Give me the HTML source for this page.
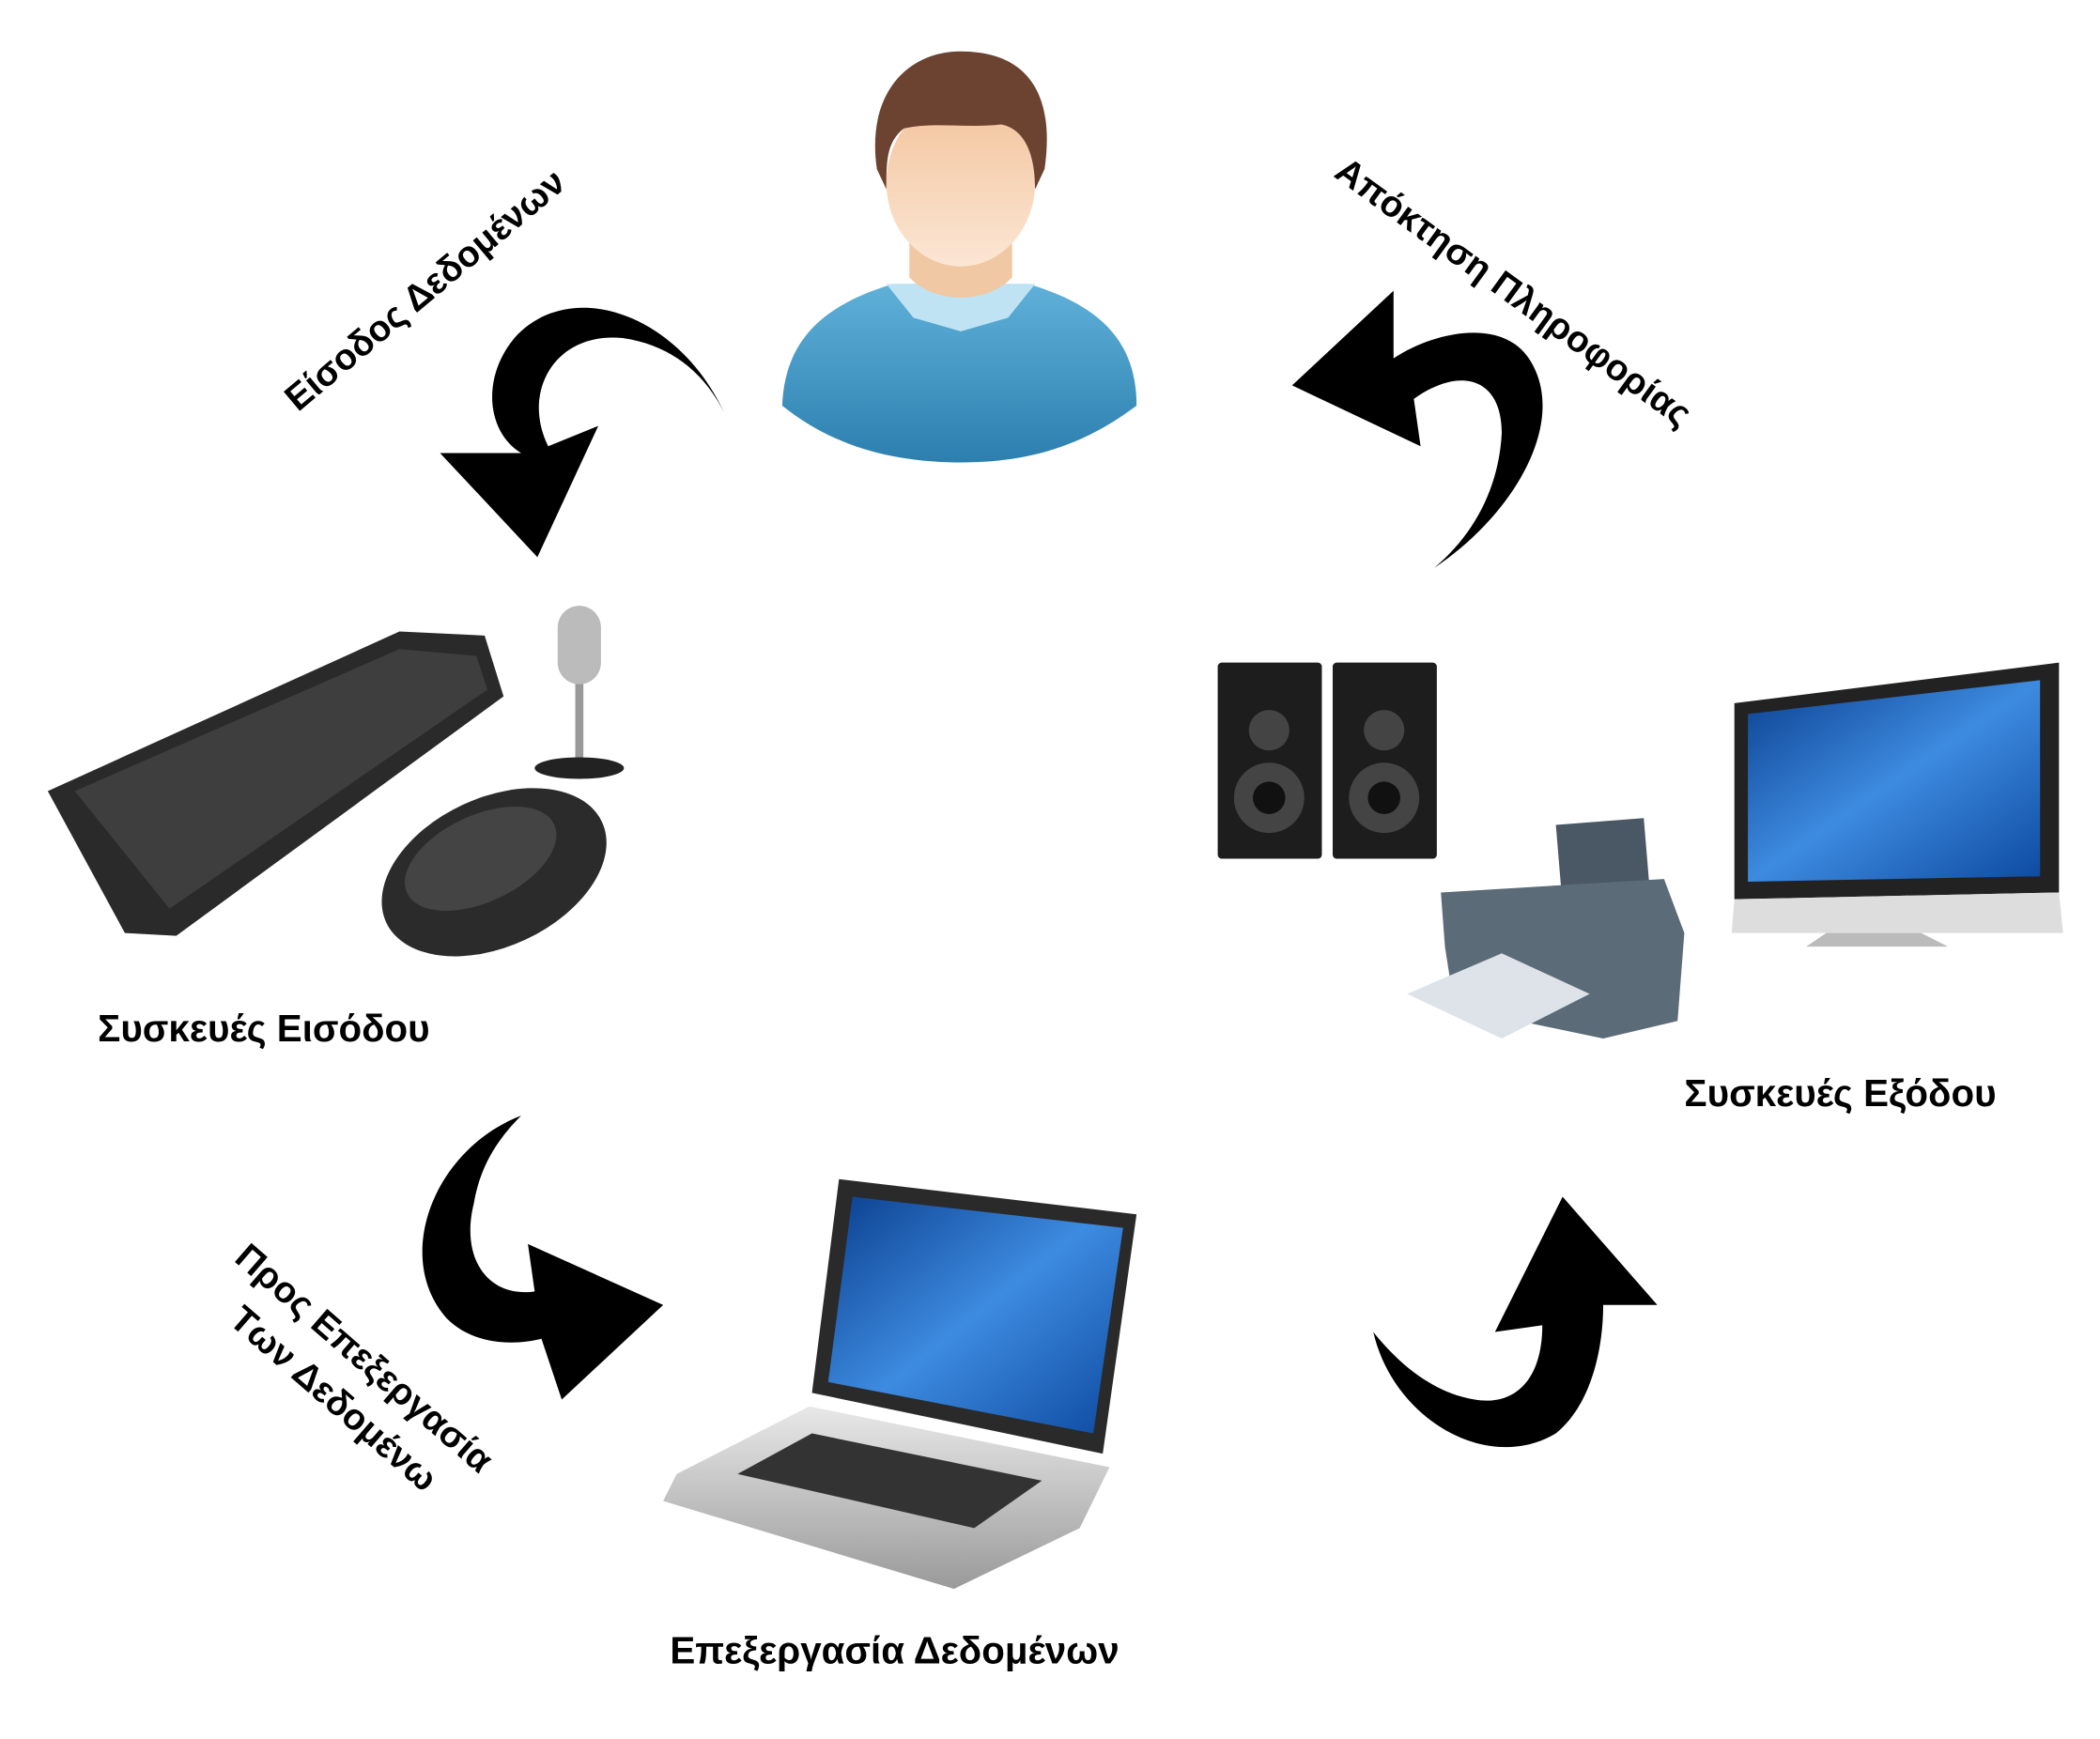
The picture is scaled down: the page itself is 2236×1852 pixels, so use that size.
<!DOCTYPE html>
<html><head><meta charset="utf-8"><style>
html,body{margin:0;padding:0;background:#fff}
svg{display:block}
text{font-family:"Liberation Sans","DejaVu Sans",sans-serif;font-weight:bold;fill:#000}
</style></head><body>
<svg width="2236" height="1852" viewBox="0 0 1552 1286" xmlns="http://www.w3.org/2000/svg">
<defs>
<linearGradient id="shirt" x1="0" y1="0" x2="0" y2="1"><stop offset="0" stop-color="#5fb1d9"/><stop offset="1" stop-color="#2c7fae"/></linearGradient>
<linearGradient id="face" x1="0" y1="0" x2="0" y2="1"><stop offset="0" stop-color="#f3c49c"/><stop offset="1" stop-color="#fbe6d4"/></linearGradient>
<linearGradient id="scr" x1="0" y1="0" x2="1" y2="1"><stop offset="0" stop-color="#0b3f8f"/><stop offset=".5" stop-color="#3d8be0"/><stop offset="1" stop-color="#0d4aa0"/></linearGradient>
<linearGradient id="silver" x1="0" y1="0" x2="0" y2="1"><stop offset="0" stop-color="#e8e8e8"/><stop offset="1" stop-color="#9a9a9a"/></linearGradient>
</defs>

<path d="M578,300 C580,250 610,225 660,210 L760,210 C810,225 840,250 840,300 C800,330 760,342 710,342 C660,342 615,330 578,300Z" fill="url(#shirt)"/>
<path d="M655,210 L765,210 L745,235 L710,245 L675,235Z" fill="#bfe3f3"/>
<path d="M672,165 L748,165 L748,205 C730,225 690,225 672,205Z" fill="#f0c8a4"/>
<ellipse cx="710" cy="135" rx="55" ry="62" fill="url(#face)"/>
<path d="M648,125 C640,70 670,38 710,38 C760,38 780,70 772,125 L765,140 C765,110 755,95 740,92 C715,95 690,90 668,95 C655,105 655,120 655,140Z" fill="#6b4330"/>

<path d="M535,305 C500,230 420,205 380,250 C355,280 360,320 385,335 L325,335 L397,412 L442,315 L405,330 C385,290 410,245 460,250 C495,255 520,275 535,305Z" fill="#000"/>
<path d="M1060,420 C1120,380 1160,310 1130,265 C1110,235 1060,245 1030,265 L1030,215 L955,285 L1050,330 L1045,295 C1080,270 1110,280 1110,320 C1108,360 1090,395 1060,420Z" fill="#000"/>
<path d="M385,825 C320,850 290,930 330,975 C350,995 380,995 400,990 L415,1035 L490,965 L390,920 L395,955 C360,960 340,930 350,890 C355,860 370,840 385,825Z" fill="#000"/>
<path d="M1015,985 C1030,1050 1100,1090 1150,1060 C1175,1040 1185,1000 1185,965 L1225,965 L1155,885 L1105,985 L1140,980 C1140,1020 1120,1040 1090,1035 C1060,1030 1035,1010 1015,985Z" fill="#000"/>

<text transform="translate(220,305) rotate(-40)" font-size="27">Είσοδος Δεδομένων</text>
<text transform="translate(985,130) rotate(36)" font-size="27">Απόκτηση Πληροφορίας</text>
<text transform="translate(172,932) rotate(41)" font-size="27">Προς Επεξεργασία</text>
<text transform="translate(168,978) rotate(41)" font-size="27">Των Δεδομένω</text>
<text x="72" y="770" font-size="28">Συσκευές Εισόδου</text>
<text x="1245" y="818" font-size="28">Συσκευές Εξόδου</text>
<text x="495" y="1230" font-size="28">Επεξεργασία Δεδομένων</text>

<path d="M35,585 L295,467 L358,470 L372,515 L130,692 L92,690 Z" fill="#2a2a2a"/>
<path d="M55,585 L295,480 L352,485 L360,510 L125,672Z" fill="#3e3e3e"/>
<rect x="425" y="500" width="6" height="65" fill="#999"/>
<ellipse cx="428" cy="568" rx="33" ry="8" fill="#222"/>
<rect x="412" y="448" width="32" height="58" rx="16" fill="#bbb"/>
<ellipse cx="365" cy="645" rx="88" ry="55" transform="rotate(-25 365 645)" fill="#2b2b2b"/>
<ellipse cx="355" cy="635" rx="60" ry="32" transform="rotate(-25 355 635)" fill="#444"/>

<rect x="900" y="490" width="77" height="145" rx="3" fill="#1d1d1d"/>
<rect x="985" y="490" width="77" height="145" rx="3" fill="#1d1d1d"/>
<circle cx="938" cy="540" r="15" fill="#444"/><circle cx="938" cy="590" r="26" fill="#444"/><circle cx="938" cy="590" r="12" fill="#111"/>
<circle cx="1023" cy="540" r="15" fill="#444"/><circle cx="1023" cy="590" r="26" fill="#444"/><circle cx="1023" cy="590" r="12" fill="#111"/>

<path d="M1150,610 L1215,605 L1220,665 L1155,670Z" fill="#4a5866"/>
<path d="M1065,660 L1230,650 L1245,690 L1240,755 L1185,768 L1075,745 L1068,700Z" fill="#5c6b78"/>
<path d="M1040,735 L1110,705 L1175,735 L1110,768Z" fill="#dde3e8"/>

<path d="M1282,520 L1522,490 L1522,660 L1282,665Z" fill="#222"/>
<path d="M1292,528 L1508,503 L1508,648 L1292,652Z" fill="url(#scr)"/>
<path d="M1282,665 L1522,660 L1525,690 L1280,690Z" fill="#ddd"/>
<path d="M1350,690 L1420,690 L1440,700 L1335,700Z" fill="#bbb"/>

<path d="M620,872 L840,898 L815,1075 L600,1030Z" fill="#2a2a2a"/>
<path d="M630,885 L830,908 L808,1060 L612,1022Z" fill="url(#scr)"/>
<path d="M598,1040 L820,1085 L798,1130 L705,1175 L490,1110 L500,1090Z" fill="url(#silver)"/>
<path d="M545,1090 L600,1060 L770,1095 L720,1130Z" fill="#333"/>
</svg>
</body></html>
